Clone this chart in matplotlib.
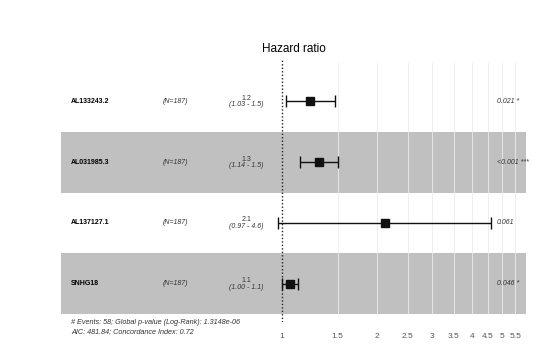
import matplotlib
matplotlib.use("Agg")
import matplotlib.pyplot as plt
from matplotlib.transforms import blended_transform_factory

plt.rcParams["font.family"] = ["Liberation Sans", "DejaVu Sans"]

genes = ["AL133243.2", "AL031985.3", "AL137127.1", "SNHG18"]
n_labels = ["(N=187)", "(N=187)", "(N=187)", "(N=187)"]
hr = [1.23, 1.31, 2.12, 1.06]
hr_low = [1.03, 1.14, 0.97, 1.00]
hr_high = [1.47, 1.50, 4.60, 1.12]
hr_text = ["1.2", "1.3", "2.1", "1.1"]
ci_text = ["(1.03 - 1.5)", "(1.14 - 1.5)", "(0.97 - 4.6)", "(1.00 - 1.1)"]
p_text = ["0.021 *", "<0.001 ***", "0.061", "0.046 *"]
ticks = [1, 1.5, 2, 2.5, 3, 3.5, 4, 4.5, 5, 5.5]
tick_labels = ["1", "1.5", "2", "2.5", "3", "3.5", "4", "4.5", "5", "5.5"]
footer1 = "# Events: 58; Global p-value (Log-Rank): 1.3148e-06"
footer2 = "AIC: 481.84; Concordance Index: 0.72"

W, H = 533, 354
fig = plt.figure(figsize=(W / 100, H / 100), dpi=100)
# axes from pixel x 61..526, y 60..322
ax = fig.add_axes([61 / W, 1 - 322 / H, (526 - 61) / W, (322 - 60) / H])
ax.set_xscale("log")
ax.set_xlim(0.199, 5.94)
ax.set_ylim(0.37, 4.68)

nrow = len(genes)
ys = [nrow - i for i in range(nrow)]

for i, y in enumerate(ys):
    if i % 2 == 1:
        ax.axhspan(y - 0.5, y + 0.5, xmin=0, xmax=1, color="#c0c0c0", lw=0, zorder=0)

ax.vlines(ticks[1:], 0.5, 4.65, color="#ececec", lw=0.6, zorder=1)
ax.axvline(1, color="#222222", ls=(0, (1, 1.5)), lw=1.0, zorder=2)

ax.errorbar(hr, ys, xerr=[[h - l for h, l in zip(hr, hr_low)],
                          [u - h for h, u in zip(hr, hr_high)]],
            fmt="s", color="#111111", ms=6, capsize=4, elinewidth=1.0,
            capthick=1.0, zorder=3)

tr = blended_transform_factory(ax.transAxes, ax.transData)
for i, y in enumerate(ys):
    ax.text(0.0215, y, genes[i], transform=tr, fontsize=5, fontweight="bold",
            ha="left", va="center")
    ax.text(0.247, y, n_labels[i], transform=tr, fontsize=5, style="italic",
            ha="center", va="center", color="#333333")
    ax.text(0.398, y + 0.05, hr_text[i], transform=tr, fontsize=5,
            ha="center", va="center", color="#333333")
    ax.text(0.398, y - 0.06, ci_text[i], transform=tr, fontsize=5,
            style="italic", ha="center", va="center", color="#333333")
    ax.text(0.938, y, p_text[i], transform=tr, fontsize=5, style="italic",
            ha="left", va="center", color="#333333")

ax.set_xticks(ticks)
ax.set_xticklabels(tick_labels)
ax.xaxis.set_minor_locator(matplotlib.ticker.NullLocator())
ax.tick_params(axis="x", length=0, labelsize=6, labelcolor="#555555", pad=8)
ax.set_yticks([])
for s in ax.spines.values():
    s.set_visible(False)

ax.set_title("Hazard ratio", fontsize=8.5, pad=6)

fig.text(71 / W, 1 - 322 / H, footer1, fontsize=5.2, style="italic", va="center",
         color="#333333")
fig.text(71 / W, 1 - 332 / H, footer2, fontsize=5.2, style="italic", va="center",
         color="#333333")

fig.savefig("out.png", dpi=100)
